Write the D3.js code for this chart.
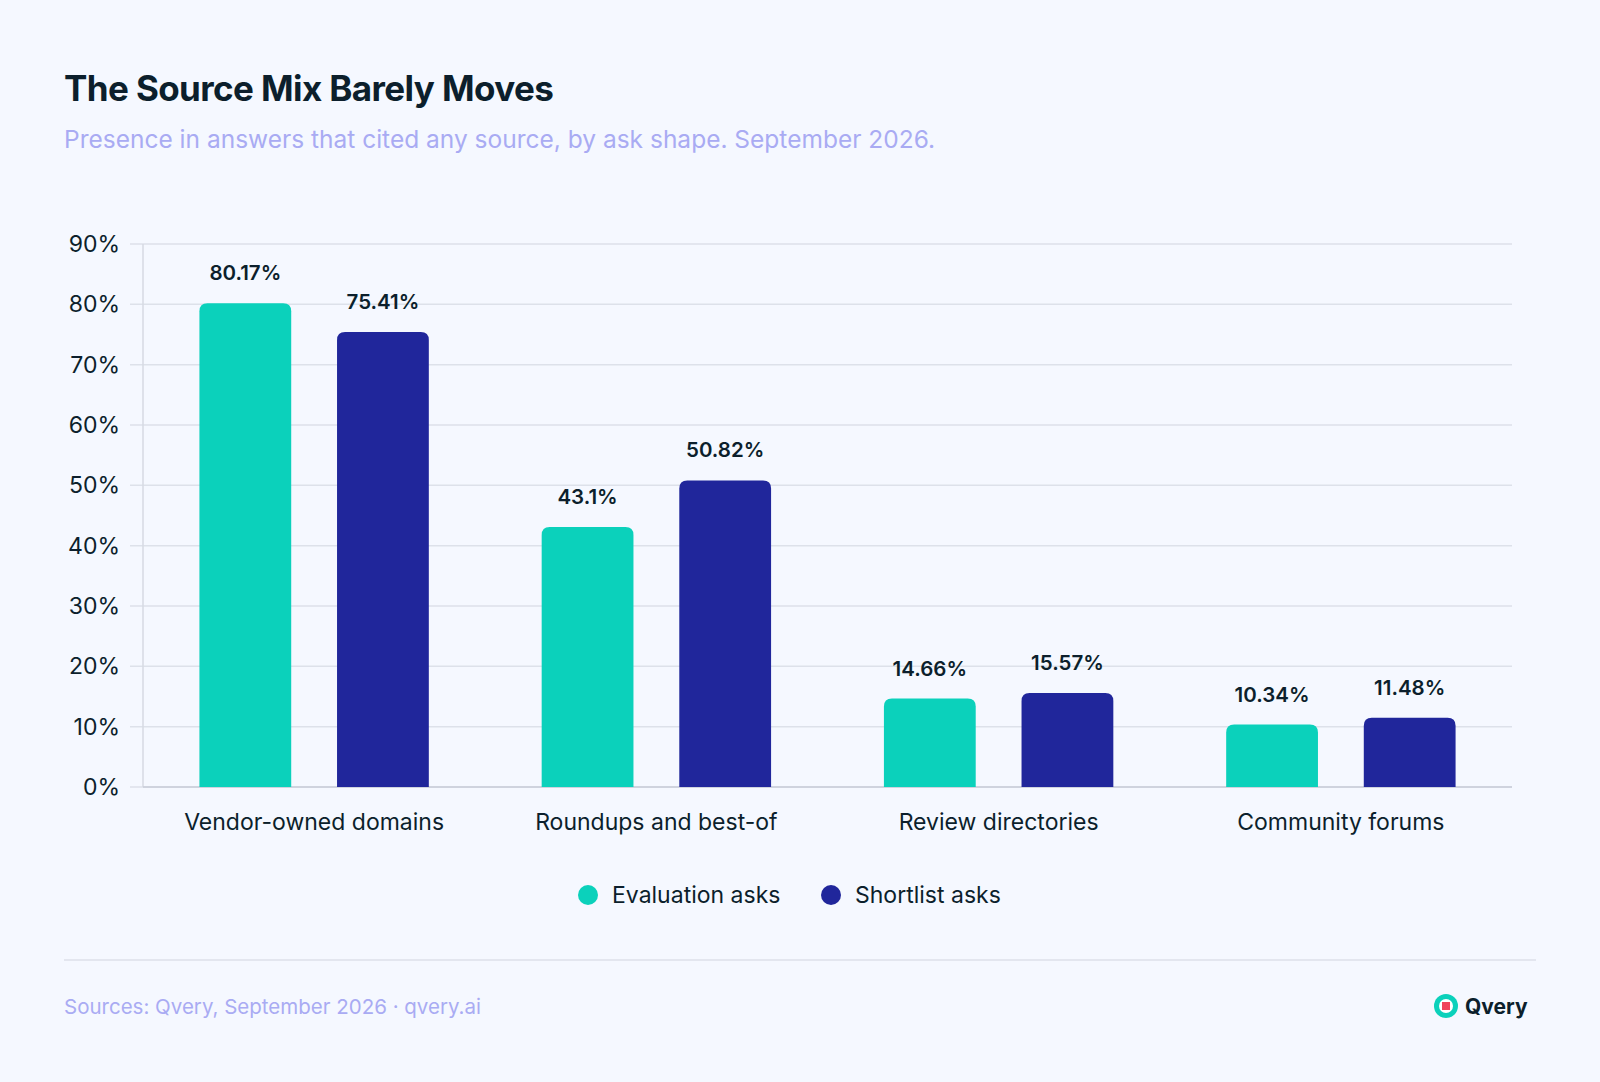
<!DOCTYPE html>
<html>
<head>
<meta charset="utf-8">
<script src="https://cdn.jsdelivr.net/npm/d3@7"></script>
<style>
  body { margin: 0; background: #f5f8ff; }
  text { font-family: Inter, "Noto Sans", sans-serif; }
</style>
</head>
<body>
<svg id="chart" width="1600" height="1082"></svg>
<script>
const categories = ['Vendor-owned domains', 'Roundups and best-of', 'Review directories', 'Community forums'];
const seriesNames = ['Evaluation asks', 'Shortlist asks'];
const evaluation = [80.17, 43.1, 14.66, 10.34];
const shortlist = [75.41, 50.82, 15.57, 11.48];
const yTicks = [0, 10, 20, 30, 40, 50, 60, 70, 80, 90];
const colors = ['#0bd1bb', '#20269b'];

const svg = d3.select('#chart');
svg.append('rect').attr('width', 1600).attr('height', 1082).attr('fill', '#f5f8ff');

svg.append('text').attr('x', 64).attr('y', 101)
    .attr('font-size', 35).attr('font-weight', 700).attr('fill', '#0c1f2c')
    .attr('letter-spacing', -0.6)
    .text('The Source Mix Barely Moves');
svg.append('text').attr('x', 64).attr('y', 148)
    .attr('font-size', 24.5).attr('fill', '#a9abf3')
    .text('Presence in answers that cited any source, by ask shape. September 2026.');

const plotLeft = 143, plotRight = 1512, plotTop = 244, plotBottom = 787;

const x = d3.scaleBand().domain(categories).range([plotLeft, plotRight]);
const xs = d3.scaleBand().domain([0, 1]).range([0, x.bandwidth()]).paddingInner(0.333).paddingOuter(0.41);
const y = d3.scaleLinear().domain([0, 90]).range([plotBottom, plotTop]);

// grid
svg.append('g').selectAll('line').data(yTicks).join('line')
    .attr('x1', plotLeft - 13).attr('x2', plotRight)
    .attr('y1', d => y(d)).attr('y2', d => y(d))
    .attr('stroke', '#dde1ea').attr('stroke-width', 1.5);
svg.append('line').attr('x1', plotLeft).attr('x2', plotLeft).attr('y1', plotTop).attr('y2', plotBottom)
    .attr('stroke', '#d6dae3').attr('stroke-width', 1.5);
svg.append('line').attr('x1', plotLeft).attr('x2', plotRight).attr('y1', plotBottom).attr('y2', plotBottom)
    .attr('stroke', '#c9cdd8').attr('stroke-width', 1.5);

svg.append('g').selectAll('text').data(yTicks).join('text')
    .attr('x', 120).attr('y', d => y(d) + 8)
    .attr('text-anchor', 'end').attr('font-size', 23).attr('fill', '#0c1f2c')
    .text(d => d + '%');

svg.append('g').selectAll('text').data(categories).join('text')
    .attr('x', d => x(d) + x.bandwidth() / 2).attr('y', 830)
    .attr('text-anchor', 'middle').attr('font-size', 23).attr('fill', '#0c1f2c')
    .text(d => d);

function topRounded(x0, y0, w, h, r) {
    r = Math.min(r, h);
    return `M${x0},${y0 + h}V${y0 + r}Q${x0},${y0} ${x0 + r},${y0}H${x0 + w - r}Q${x0 + w},${y0} ${x0 + w},${y0 + r}V${y0 + h}Z`;
}

const bars = [];
categories.forEach((c, i) => {
    bars.push({ c, s: 0, v: evaluation[i] });
    bars.push({ c, s: 1, v: shortlist[i] });
});

svg.append('g').selectAll('path').data(bars).join('path')
    .attr('d', d => topRounded(x(d.c) + xs(d.s), y(d.v), xs.bandwidth(), plotBottom - y(d.v), 8))
    .attr('fill', d => colors[d.s]);

svg.append('g').selectAll('text').data(bars).join('text')
    .attr('x', d => x(d.c) + xs(d.s) + xs.bandwidth() / 2).attr('y', d => y(d.v) - 23)
    .attr('text-anchor', 'middle').attr('font-size', 20.5).attr('font-weight', 600).attr('fill', '#0c1f2c')
    .text(d => d.v + '%');

// legend
const legendX = [588, 831];
seriesNames.forEach((n, i) => {
    svg.append('circle').attr('cx', legendX[i]).attr('cy', 895).attr('r', 10).attr('fill', colors[i]);
    svg.append('text').attr('x', legendX[i] + 24).attr('y', 903)
        .attr('font-size', 23).attr('fill', '#0c1f2c').text(n);
});

svg.append('line').attr('x1', 64).attr('x2', 1536).attr('y1', 960).attr('y2', 960)
    .attr('stroke', '#dde1ea').attr('stroke-width', 1.5);
svg.append('text').attr('x', 64).attr('y', 1014)
    .attr('font-size', 20.5).attr('fill', '#a9abf3')
    .text('Sources: Qvery, September 2026 · qvery.ai');

// logo
svg.append('circle').attr('cx', 1446).attr('cy', 1006).attr('r', 12).attr('fill', '#0bd1bb');
svg.append('circle').attr('cx', 1446).attr('cy', 1006).attr('r', 7).attr('fill', '#ffffff');
svg.append('rect').attr('x', 1442).attr('y', 1002).attr('width', 8).attr('height', 8).attr('fill', '#f0435a');
svg.append('text').attr('x', 1465).attr('y', 1014)
    .attr('font-size', 21).attr('font-weight', 700).attr('fill', '#0c1f2c').text('Qvery');
</script>
</body>
</html>
